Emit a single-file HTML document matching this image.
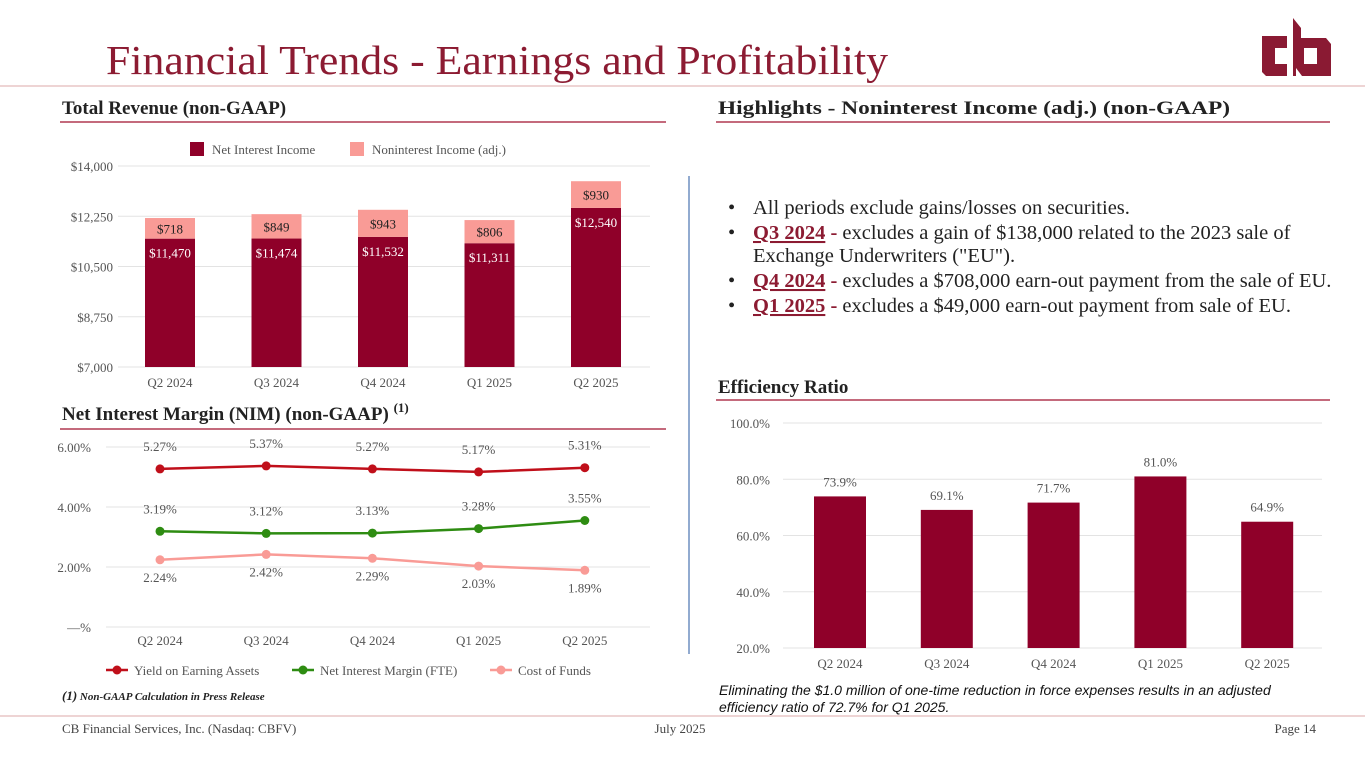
<!DOCTYPE html>
<html><head><meta charset="utf-8">
<style>
body{margin:0;width:1365px;height:768px;background:#fff;overflow:hidden;font-family:"Liberation Serif",serif;}
svg{position:absolute;left:0;top:0}
</style></head>
<body>
<svg width="1365" height="768" xmlns="http://www.w3.org/2000/svg" font-family="Liberation Serif, serif">
<g id="static">
<text x="106" y="74" font-size="41" fill="#8c1b32" textLength="782" lengthAdjust="spacingAndGlyphs">Financial Trends - Earnings and Profitability</text>
<g fill="#8a1a33">
<path d="M1262 36 H1287 V48 H1275 V64 H1287 V76 H1266 L1262 72 Z"/>
<path d="M1293 18 L1301 28 V38 H1326 L1331 44 V76 H1302 L1296 68 V76 H1293 Z M1304 48 V64 H1317 V48 Z" fill-rule="evenodd"/>
</g>
<line x1="0" y1="86" x2="1365" y2="86" stroke="#e8c6c6" stroke-width="1.5"/>
<text x="62" y="114" font-size="19" font-weight="bold" fill="#222">Total Revenue (non-GAAP)</text>
<line x1="60" y1="122" x2="666" y2="122" stroke="#a0102f" stroke-width="1.2"/>
<text x="718" y="114" font-size="19" font-weight="bold" fill="#222" textLength="512" lengthAdjust="spacingAndGlyphs">Highlights - Noninterest Income (adj.) (non-GAAP)</text>
<line x1="716" y1="122" x2="1330" y2="122" stroke="#a0102f" stroke-width="1.2"/>
<text x="62" y="420" font-size="19" font-weight="bold" fill="#222">Net Interest Margin (NIM) (non-GAAP) <tspan font-size="13" dy="-8">(1)</tspan></text>
<line x1="60" y1="429" x2="666" y2="429" stroke="#a0102f" stroke-width="1.2"/>
<text x="718" y="393" font-size="19" font-weight="bold" fill="#222">Efficiency Ratio</text>
<line x1="716" y1="400" x2="1330" y2="400" stroke="#a0102f" stroke-width="1.2"/>
<line x1="689" y1="176" x2="689" y2="654" stroke="#6f8fc0" stroke-width="1.5"/>
<g font-size="20.5" fill="#222">
<text x="728" y="214">•</text><text x="753" y="214">All periods exclude gains/losses on securities.</text>
<text x="728" y="239">•</text><text x="753" y="239"><tspan fill="#8c1b32" font-weight="bold" text-decoration="underline">Q3 2024</tspan><tspan font-weight="bold" fill="#8c1b32"> -</tspan> excludes a  gain of $138,000 related to the 2023 sale of</text>
<text x="753" y="262">Exchange Underwriters ("EU").</text>
<text x="728" y="287">•</text><text x="753" y="287"><tspan fill="#8c1b32" font-weight="bold" text-decoration="underline">Q4 2024</tspan><tspan font-weight="bold" fill="#8c1b32"> -</tspan>  excludes a $708,000 earn-out payment from the sale of EU.</text>
<text x="728" y="312">•</text><text x="753" y="312"><tspan fill="#8c1b32" font-weight="bold" text-decoration="underline">Q1 2025</tspan><tspan font-weight="bold" fill="#8c1b32"> -</tspan>  excludes a $49,000 earn-out payment from sale of EU.</text>
</g>
<text x="62" y="700" font-size="11" font-style="italic" font-weight="bold" fill="#222"><tspan font-size="13">(1)</tspan> Non-GAAP Calculation in Press Release</text>
<text font-family="Liberation Sans, sans-serif" font-size="14" font-style="italic" fill="#111"><tspan x="719" y="695">Eliminating the $1.0 million of one-time reduction in force expenses results in an adjusted</tspan><tspan x="719" y="712">efficiency ratio of 72.7% for Q1 2025.</tspan></text>
<line x1="0" y1="716" x2="1365" y2="716" stroke="#e8c6c6" stroke-width="1.5"/>
<text x="62" y="733" font-size="13" fill="#444">CB Financial Services, Inc. (Nasdaq: CBFV)</text>
<text x="680" y="733" text-anchor="middle" font-size="13" fill="#444">July 2025</text>
<text x="1316" y="733" text-anchor="end" font-size="13" fill="#444">Page 14</text>
</g>
<g id="rev"></g><g id="nim"></g><g id="eff"></g>
</svg>
<script>
const NS="http://www.w3.org/2000/svg";
const quarters=["Q2 2024","Q3 2024","Q4 2024","Q1 2025","Q2 2025"];
const netInterestIncome=[11470,11474,11532,11311,12540];
const nonInterestIncome=[718,849,943,806,930];
const revTicks=[7000,8750,10500,12250,14000];
const yieldEA=[5.27,5.37,5.27,5.17,5.31];
const nimFTE=[3.19,3.12,3.13,3.28,3.55];
const costFunds=[2.24,2.42,2.29,2.03,1.89];
const nimTicks=[0,2,4,6];
const efficiency=[73.9,69.1,71.7,81.0,64.9];
const effTicks=[20,40,60,80,100];
function mk(p,tag,a,txt){const e=document.createElementNS(NS,tag);for(const k in a)e.setAttribute(k,a[k]);if(txt!=null)e.textContent=txt;p.appendChild(e);return e;}
const fmt=v=>"$"+v.toLocaleString("en-US");
// Revenue chart
const rev=document.getElementById("rev");
const ry=v=>367-(v-7000)/7000*201, rx=i=>170+i*106.5;
revTicks.forEach(t=>{mk(rev,"line",{x1:118,x2:650,y1:ry(t),y2:ry(t),stroke:"#e3e3e3"});
const l=mk(rev,"text",{x:113,y:ry(t)+5,"text-anchor":"end","font-size":13,fill:"#555"},fmt(t));

});
quarters.forEach((q,i)=>{const x=rx(i),a=netInterestIncome[i],b=nonInterestIncome[i];
const r1=mk(rev,"rect",{x:x-25,y:ry(a),width:50,height:ry(7000)-ry(a),fill:"#8f0029"});


const r2=mk(rev,"rect",{x:x-25,y:ry(a+b),width:50,height:ry(a)-ry(a+b),fill:"#f99b96"});


mk(rev,"text",{x:x,y:ry(a)+19,"text-anchor":"middle","font-size":13,fill:"#fff"},fmt(a));
mk(rev,"text",{x:x,y:(ry(a)+ry(a+b))/2+5,"text-anchor":"middle","font-size":13,fill:"#222"},fmt(b));
const xl=mk(rev,"text",{x:x,y:387,"text-anchor":"middle","font-size":13,fill:"#555"},q);

});
const lg1=mk(rev,"rect",{x:190,y:142,width:14,height:14,fill:"#8f0029"});


mk(rev,"text",{x:212,y:154,"font-size":13,fill:"#555"},"Net Interest Income");
const lg2=mk(rev,"rect",{x:350,y:142,width:14,height:14,fill:"#f99b96"});


mk(rev,"text",{x:372,y:154,"font-size":13,fill:"#555"},"Noninterest Income (adj.)");
// NIM chart
const nim=document.getElementById("nim");
const ny=v=>627-v/6*180, nx=i=>160+i*106.2;
nimTicks.forEach(t=>{mk(nim,"line",{x1:106,x2:650,y1:ny(t),y2:ny(t),stroke:"#e3e3e3"});
const l=mk(nim,"text",{x:91,y:ny(t)+5,"text-anchor":"end","font-size":13,fill:"#555"},t===0?"—%":t.toFixed(2)+"%");

});
quarters.forEach((q,i)=>{const xl=mk(nim,"text",{x:nx(i),y:645,"text-anchor":"middle","font-size":13,fill:"#555"},q);

});
const series=[[yieldEA,"#c00f1a",-18,"series-yield-earning-assets"],[nimFTE,"#2e8c12",-18,"series-net-interest-margin"],[costFunds,"#f99b96",22,"series-cost-of-funds"]];
series.forEach(([d,c,off,name])=>{const pl=mk(nim,"polyline",{points:d.map((v,i)=>nx(i)+","+ny(v)).join(" "),fill:"none",stroke:c,"stroke-width":2.5});


d.forEach((v,i)=>{const p=mk(nim,"circle",{cx:nx(i),cy:ny(v),r:4.5,fill:c});


mk(nim,"text",{x:nx(i),y:ny(v)+off,"text-anchor":"middle","font-size":13,fill:"#555"},v.toFixed(2)+"%");});});
const leg=[["Yield on Earning Assets","#c00f1a",106],["Net Interest Margin (FTE)","#2e8c12",292],["Cost of Funds","#f99b96",490]];
leg.forEach(([t,c,x])=>{const g=mk(nim,"g",{});


mk(g,"line",{x1:x,x2:x+22,y1:670,y2:670,stroke:c,"stroke-width":2.5});
mk(g,"circle",{cx:x+11,cy:670,r:4.5,fill:c});
mk(g,"text",{x:x+28,y:675,"font-size":13,fill:"#555"},t);});
// Efficiency chart
const eff=document.getElementById("eff");
const ey=v=>648-(v-20)/80*225, ex=i=>840+i*106.8;
effTicks.forEach(t=>{mk(eff,"line",{x1:783,x2:1322,y1:ey(t),y2:ey(t),stroke:"#e3e3e3"});
const l=mk(eff,"text",{x:770,y:ey(t)+5,"text-anchor":"end","font-size":13,fill:"#555"},t.toFixed(1)+"%");

});
quarters.forEach((q,i)=>{const v=efficiency[i],x=ex(i);
const r=mk(eff,"rect",{x:x-26,y:ey(v),width:52,height:ey(20)-ey(v),fill:"#8f0029"});


mk(eff,"text",{x:x,y:ey(v)-10,"text-anchor":"middle","font-size":13,fill:"#555"},v.toFixed(1)+"%");
const xl=mk(eff,"text",{x:x,y:668,"text-anchor":"middle","font-size":13,fill:"#555"},q);

});
</script>
</body></html>
